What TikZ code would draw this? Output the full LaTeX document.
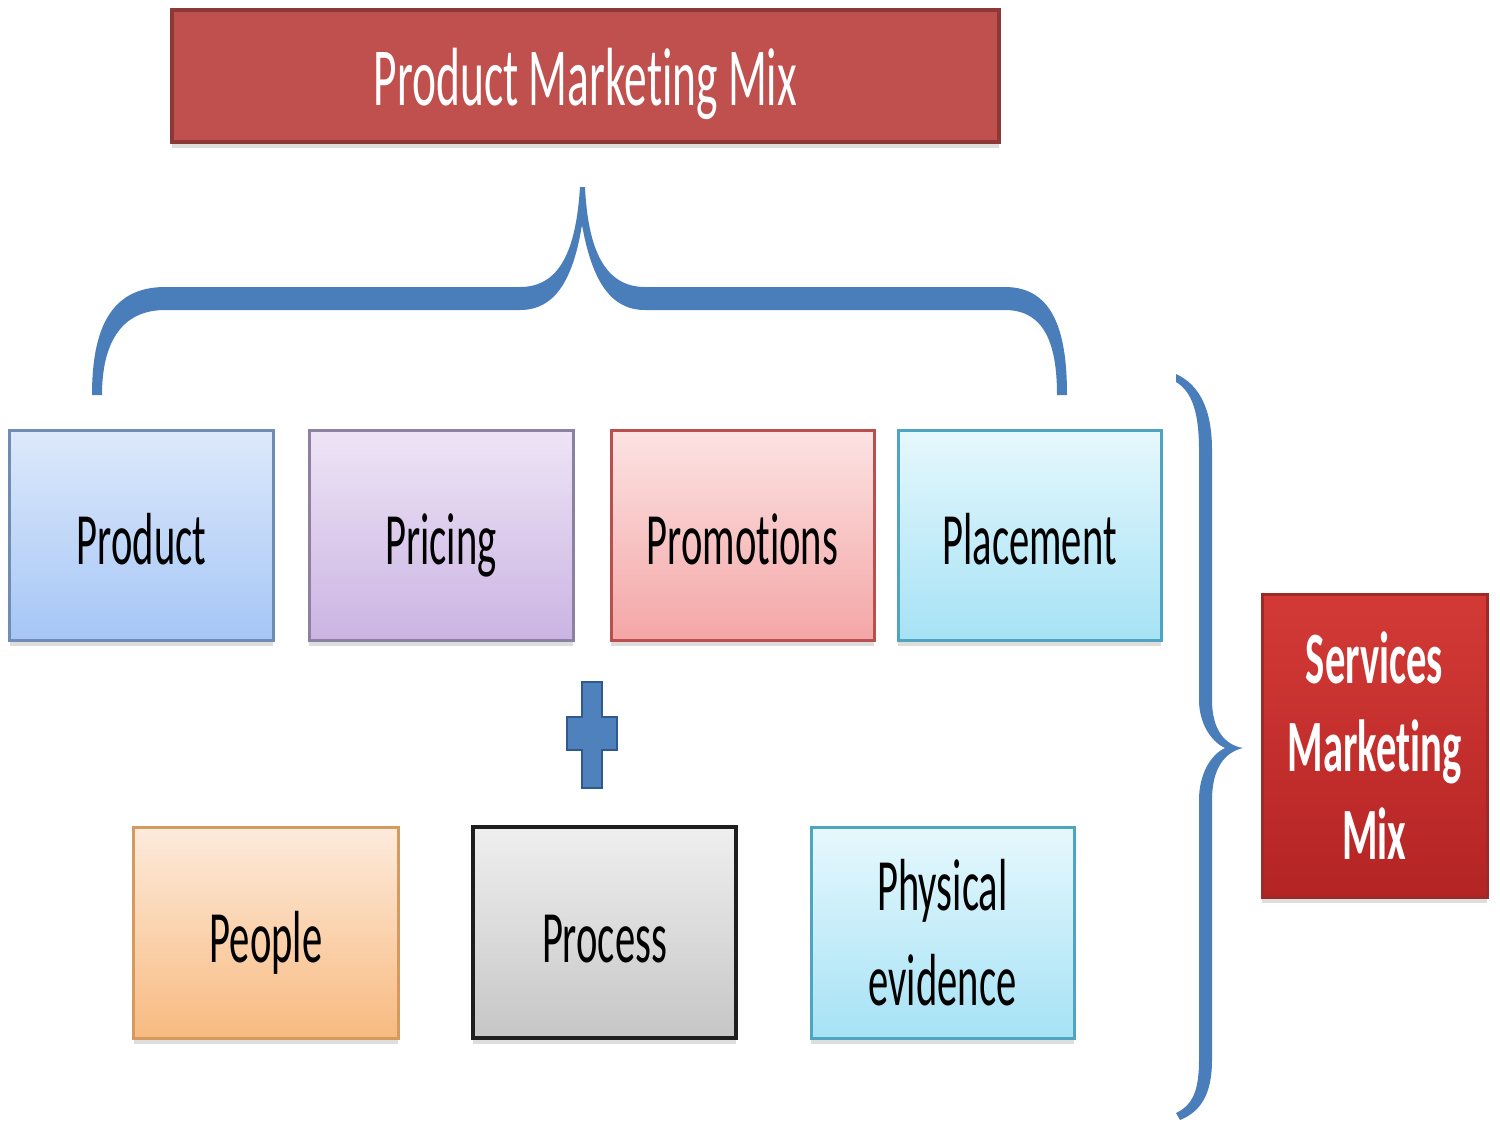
\documentclass[tikz,border=0pt]{standalone}
\usepackage{fontspec}
\setmainfont{Carlito}[FakeStretch=0.55, Ligatures=NoCommon]
\usetikzlibrary{shadows}
\definecolor{titlefill}{HTML}{C0504D}
\definecolor{titledraw}{HTML}{8C3836}
\definecolor{bracecol}{HTML}{4A7EBB}
\definecolor{plusfill}{HTML}{4F81BD}
\definecolor{plusdraw}{HTML}{2F5A8F}
\tikzset{
  box/.style={rectangle, inner sep=0pt, line width=0.6mm, align=center,
    font=\fontsize{42}{54}\selectfont,
    drop shadow={shadow xshift=0mm, shadow yshift=-1.1mm, opacity=0.22, fill=black!60}},
  oneline/.style={text height=42pt, text depth=8pt},
  bluebox/.style={box, top color={rgb,255:red,221;green,233;blue,251}, bottom color={rgb,255:red,166;green,198;blue,246}, draw={rgb,255:red,111;green,141;blue,179}},
  purplebox/.style={box, top color={rgb,255:red,238;green,228;blue,246}, bottom color={rgb,255:red,203;green,180;blue,227}, draw={rgb,255:red,138;green,130;blue,160}},
  pinkbox/.style={box, top color={rgb,255:red,252;green,227;blue,227}, bottom color={rgb,255:red,244;green,166;blue,166}, draw={rgb,255:red,185;green,80;blue,79}},
  cyanbox/.style={box, top color={rgb,255:red,230;green,248;blue,253}, bottom color={rgb,255:red,166;green,226;blue,245}, draw={rgb,255:red,79;green,165;blue,192}},
  orangebox/.style={box, top color={rgb,255:red,253;green,235;blue,220}, bottom color={rgb,255:red,248;green,186;blue,128}, draw={rgb,255:red,212;green,154;blue,96}},
  graybox/.style={box, top color={rgb,255:red,239;green,239;blue,239}, bottom color={rgb,255:red,198;green,198;blue,198}, draw={rgb,255:red,30;green,30;blue,30}, line width=0.9mm},
  redbox/.style={box, top color={rgb,255:red,211;green,58;blue,54}, bottom color={rgb,255:red,180;green,36;blue,36}, draw={rgb,255:red,158;green,42;blue,40}, text=white, font=\fontsize{42}{50}\selectfont\bfseries},
  titlebox/.style={box, fill=titlefill, draw=titledraw, line width=0.8mm, text=white,
    font=\fontsize{47}{54}\selectfont, text height=43pt, text depth=9.5pt}
}
\begin{document}
\begin{tikzpicture}[x=0.2mm, y=-0.2mm]
\useasboundingbox (0,0) rectangle (1500,1125);
% title
\node[titlebox, minimum width=165.4mm, minimum height=26.4mm] (title) at (585.5,76) {Product Marketing Mix};
% top brace
\fill[bracecol] (92,395) .. controls (92,330) and (110,287) .. (165,287) -- (520,287)
  .. controls (560,287) and (576,250) .. (580,187) -- (585,187)
  .. controls (588,250) and (605,287) .. (645,287) -- (1005,287)
  .. controls (1055,287) and (1067,335) .. (1067,395) -- (1057,395)
  .. controls (1057,345) and (1045,310) .. (1005,310) -- (645,310)
  .. controls (610,310) and (592,280) .. (582,225)
  .. controls (573,280) and (555,310) .. (520,310) -- (165,310)
  .. controls (120,310) and (102,345) .. (102,395) -- cycle;
% first row
\node[bluebox, oneline, minimum width=52.6mm, minimum height=42mm] (product) at (141.5,535) {Product};
\node[purplebox, oneline, minimum width=52.8mm, minimum height=42mm] (pricing) at (441,535) {Pricing};
\node[pinkbox, oneline, minimum width=52.6mm, minimum height=42mm] (promo) at (742.5,535) {Promotions};
\node[cyanbox, oneline, minimum width=52.6mm, minimum height=42mm] (place) at (1029.5,535) {Placement};
% plus
\filldraw[fill=plusfill, draw=plusdraw, line width=0.5mm] (582,682) -- (602,682) -- (602,717) -- (617,717) -- (617,750) -- (602,750) -- (602,788) -- (582,788) -- (582,750) -- (567,750) -- (567,717) -- (582,717) -- cycle;
% second row
\node[orangebox, oneline, minimum width=52.8mm, minimum height=42.2mm] (people) at (266,932.5) {People};
\node[graybox, oneline, minimum width=52.6mm, minimum height=42.2mm] (process) at (604.5,932.5) {Process};
\node[cyanbox, minimum width=52.6mm, minimum height=42.2mm] (phys) at (942.5,932.5) {Physical\\evidence};
% right brace
\fill[bracecol] (1176,374) .. controls (1200,385) and (1212,410) .. (1212,450) -- (1212,700)
  .. controls (1212,730) and (1225,745) .. (1243,748)
  .. controls (1225,752) and (1212,768) .. (1212,800) -- (1212,1060)
  .. controls (1212,1095) and (1200,1112) .. (1180,1120)
  -- (1176,1113) .. controls (1193,1105) and (1199,1090) .. (1199,1060) -- (1199,800)
  .. controls (1199,775) and (1210,755) .. (1225,748)
  .. controls (1210,741) and (1199,722) .. (1199,700) -- (1199,450)
  .. controls (1199,415) and (1193,392) .. (1176,382) -- cycle;
% services
\node[redbox, minimum width=45mm, minimum height=60.6mm] (services) at (1374.5,745.5) {Services\\Marketing\\Mix};
\end{tikzpicture}
\end{document}
